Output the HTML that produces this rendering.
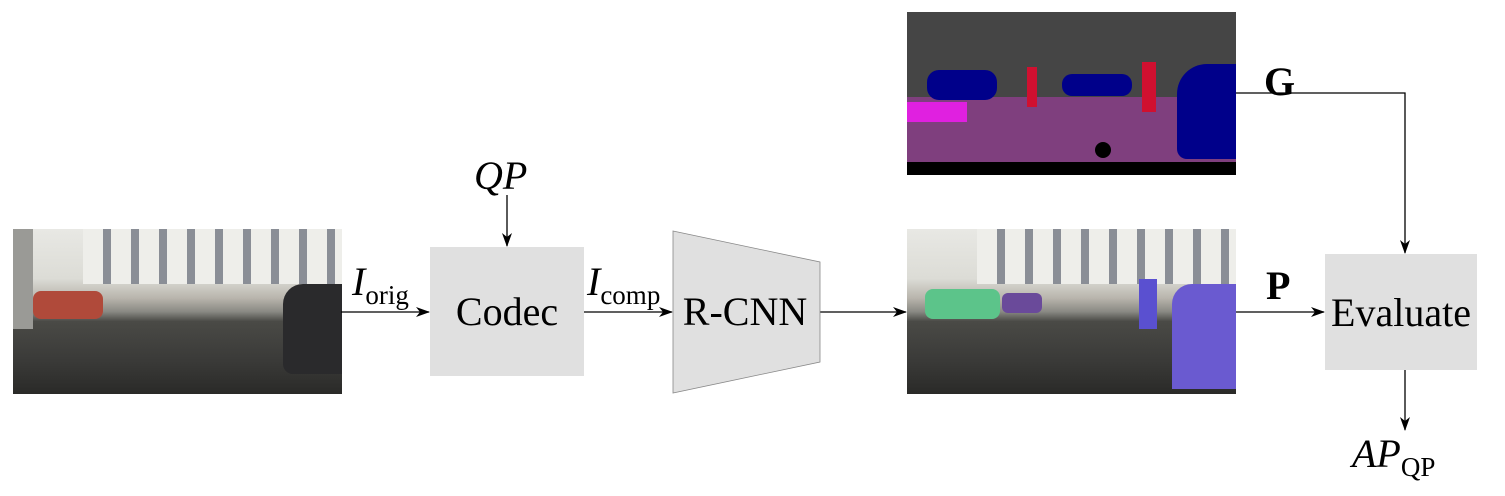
<!DOCTYPE html>
<html><head><meta charset="utf-8"><style>
body{margin:0;width:1505px;height:496px;background:#fff;position:relative;overflow:hidden;font-family:"Liberation Serif",serif}
.a{position:absolute}
.photo{position:absolute;width:329px;height:165px;overflow:hidden;background:linear-gradient(#e8e8e4 0%,#dcdcd6 30%,#b8b4ac 42%,#8a8a84 50%,#4a4a46 56%,#3a3a38 80%,#2a2a28 100%)}
.bld{position:absolute;left:70px;top:0;width:260px;height:55px;background:repeating-linear-gradient(90deg,#eeeeea 0 20px,#8a8e96 20px 28px)}
.box{position:absolute;background:#e0e0e0;display:flex;align-items:center;justify-content:center;font-size:40px}
.lbl{position:absolute;font-size:40px;white-space:nowrap}
sub{font-size:27px;vertical-align:-9px;font-style:normal}
</style></head><body>
<div class="photo" style="left:13px;top:229px">
 <div class="a" style="left:0;top:0;width:20px;height:100px;background:#9a9a96"></div>
 <div class="bld"></div>
 <div class="a" style="left:20px;top:62px;width:70px;height:28px;background:#b04a3a;border-radius:8px"></div>
 <div class="a" style="left:270px;top:55px;width:59px;height:90px;background:#2a2a2c;border-radius:20px 0 0 10px"></div>
</div>
<div class="photo" style="left:907px;top:229px">
 <div class="bld"></div>
 <div class="a" style="left:18px;top:60px;width:75px;height:30px;background:#5cc48a;border-radius:8px"></div>
 <div class="a" style="left:95px;top:64px;width:40px;height:20px;background:#6a4a9a;border-radius:6px"></div>
 <div class="a" style="left:232px;top:50px;width:18px;height:50px;background:#5a50d0"></div>
 <div class="a" style="left:265px;top:55px;width:64px;height:105px;background:#6a5ad0;border-radius:20px 0 0 0"></div>
</div>
<div class="a" style="left:907px;top:12px;width:329px;height:163px;background:#454545;overflow:hidden">
 <div class="a" style="left:0;top:85px;width:329px;height:70px;background:#7f3f7e"></div>
 <div class="a" style="left:0;top:90px;width:60px;height:20px;background:#e020e0"></div>
 <div class="a" style="left:0;top:150px;width:329px;height:13px;background:#000"></div>
 <div class="a" style="left:20px;top:58px;width:70px;height:30px;background:#00008a;border-radius:12px"></div>
 <div class="a" style="left:155px;top:62px;width:70px;height:22px;background:#00008a;border-radius:10px"></div>
 <div class="a" style="left:270px;top:52px;width:59px;height:95px;background:#00008a;border-radius:30px 0 0 10px"></div>
 <div class="a" style="left:120px;top:55px;width:10px;height:40px;background:#d01030"></div>
 <div class="a" style="left:235px;top:50px;width:14px;height:50px;background:#d01030"></div>
 <div class="a" style="left:188px;top:130px;width:16px;height:16px;background:#000;border-radius:50%"></div>
</div>
<svg class="a" style="left:0;top:0" width="1505" height="496">
<defs><marker id="m" markerWidth="14" markerHeight="10" refX="13" refY="5" orient="auto" markerUnits="userSpaceOnUse"><path d="M0,0 L14,5 L0,10 L4,5z" fill="#000"/></marker></defs>
<g stroke="#000" stroke-width="1.3" fill="none">
<line x1="341" y1="312" x2="429" y2="312" marker-end="url(#m)"/>
<line x1="507" y1="195" x2="507" y2="246" marker-end="url(#m)"/>
<line x1="584" y1="312" x2="672" y2="312" marker-end="url(#m)"/>
<line x1="820" y1="312" x2="906" y2="312" marker-end="url(#m)"/>
<line x1="1236" y1="312" x2="1324" y2="312" marker-end="url(#m)"/>
<polyline points="1236,93 1405,93 1405,253" marker-end="url(#m)"/>
<line x1="1405" y1="370" x2="1405" y2="430" marker-end="url(#m)"/>
</g>
<polygon points="673,231 820,262 820,362 673,393" fill="#e0e0e0" stroke="#888" stroke-width="0.8"/>
</svg>
<div class="box" style="left:430px;top:247px;width:154px;height:129px">Codec</div>
<div class="box" style="left:1325px;top:254px;width:152px;height:116px">Evaluate</div>
<div class="lbl" style="left:680px;top:288px;width:130px;text-align:center">R-CNN</div>
<div class="lbl" style="left:474px;top:152px;font-style:italic">QP</div>
<div class="lbl" style="left:352px;top:258px"><i>I</i><sub>orig</sub></div>
<div class="lbl" style="left:587px;top:258px"><i>I</i><sub>comp</sub></div>
<div class="lbl" style="left:1264px;top:58px;font-weight:bold">G</div>
<div class="lbl" style="left:1266px;top:262px;font-weight:bold">P</div>
<div class="lbl" style="left:1352px;top:430px"><i>AP</i><sub>QP</sub></div>
</body></html>
